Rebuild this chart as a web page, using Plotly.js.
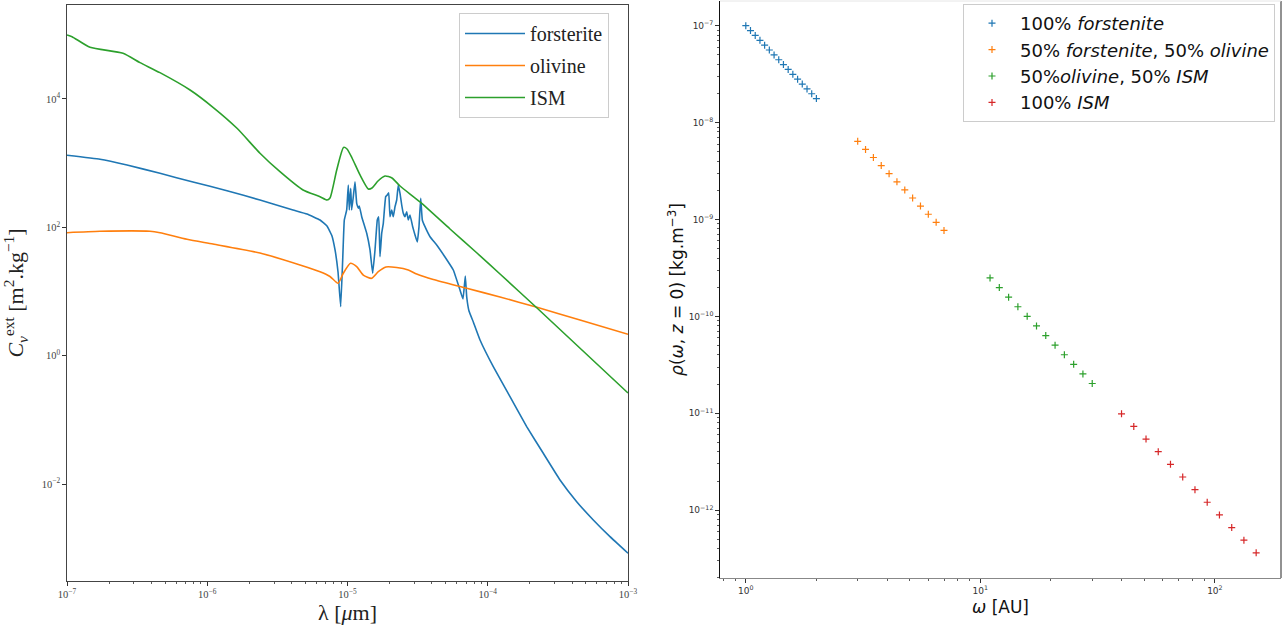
<!DOCTYPE html>
<html>
<head>
<meta charset="utf-8">
<script src="https://cdn.plot.ly/plotly-3.0.1.min.js"></script>
<style>html,body{margin:0;padding:0;background:#fff;} #chart{width:1288px;height:630px;}</style>
</head>
<body>
<div id="chart"></div>
<script>
// ---------- Left panel: extinction opacity vs wavelength ----------
const lambdaForsterite = [1.000e-7,1.719e-7,2.678e-7,4.603e-7,7.91e-7,1.383e-6,2.377e-6,4.087e-6,5.14e-6,6.37e-6,7.14e-6,7.75e-6,8.15e-6,8.56e-6,8.94e-6,9.24e-6,9.49e-6,9.87e-6,1.013e-5,1.030e-5,1.054e-5,1.071e-5,1.100e-5,1.131e-5,1.163e-5,1.194e-5,1.214e-5,1.263e-5,1.371e-5,1.447e-5,1.512e-5,1.571e-5,1.631e-5,1.669e-5,1.705e-5,1.753e-5,1.800e-5,1.872e-5,1.922e-5,1.967e-5,2.009e-5,2.066e-5,2.121e-5,2.181e-5,2.243e-5,2.302e-5,2.368e-5,2.435e-5,2.499e-5,2.570e-5,2.643e-5,2.713e-5,2.790e-5,2.916e-5,3.029e-5,3.145e-5,3.234e-5,3.326e-5,3.415e-5,3.569e-5,3.876e-5,4.325e-5,4.956e-5,5.68e-5,6.34e-5,6.66e-5,6.92e-5,7.08e-5,7.35e-5,7.89e-5,8.81e-5,1.095e-4,1.441e-4,1.895e-4,2.489e-4,3.275e-4,4.307e-4,5.657e-4,7.44e-4,1.000e-3];
const forsterite = [1327,1150,937,696,509,373,267,187,161.7,130.4,105.1,73.5,44.5,20.2,5.82,31.1,130.4,187,457.6,187,406.4,187,300.8,515,237.4,198.4,215.4,146.8,80.9,44.5,19.3,44.5,130.4,146.8,35.0,80.9,115.8,300.8,319.7,347.2,146.8,187,146.8,210.1,267,457.6,339.8,223.3,165.8,146.8,175.6,130.4,156.0,102.5,76.1,59.2,102.5,284.0,130.4,102.5,71.6,53.2,34.6,21.7,10.59,7.67,17.5,8.24,4.99,3.36,1.762,0.6765,0.2306,0.07864,0.03029,0.01163,0.005338,0.002769,0.001521,0.000839];

const lambdaOlivine = [1.000e-7,1.719e-7,3.906e-7,4.603e-7,7.17e-7,1.099e-6,2.377e-6,4.585e-6,6.37e-6,7.50e-6,8.56e-6,9.33e-6,1.051e-5,1.163e-5,1.296e-5,1.487e-5,1.658e-5,1.882e-5,2.243e-5,2.713e-5,3.114e-5,4.09e-5,7.08e-5,1.223e-4,2.245e-4,4.547e-4,1.000e-3];
const olivine = [82.7,87.0,87.0,82.7,65.3,55.1,39.9,25.96,20.4,17.2,13.47,19.3,27.6,24.4,18.1,16.1,20.4,24.2,23.7,21.7,18.8,15.4,11.26,8.24,5.69,3.61,2.163];

const lambdaISM = [1.000e-7,1.086e-7,1.459e-7,2.508e-7,3.315e-7,4.60e-7,7.54e-7,1.099e-6,1.630e-6,2.377e-6,3.30e-6,4.82e-6,6.37e-6,7.14e-6,7.50e-6,8.38e-6,9.37e-6,9.92e-6,1.077e-5,1.228e-5,1.407e-5,1.495e-5,1.650e-5,1.851e-5,2.076e-5,2.368e-5,3.288e-5,5.38e-5,8.38e-5,1.223e-4,2.245e-4,1.000e-3];
const ism = [9.93e4,9.34e4,6.39e4,5.15e4,3.68e4,2.57e4,1.381e4,7.43e3,3.50e3,1.43e3,737,382,301,267,287,784,1760,1664,1205,655,396,411,528,632,588,441,249,94.4,39.9,18.8,5.55,0.2634];

const leftXTickVals = [1e-7,1e-6,1e-5,1e-4,1e-3];
const leftXTickText = ["10<sup>−7</sup>","10<sup>−6</sup>","10<sup>−5</sup>","10<sup>−4</sup>","10<sup>−3</sup>"];
const leftYTickVals = [1e-2,1,1e2,1e4];
const leftYTickText = ["10<sup>−2</sup>","10<sup>0</sup>","10<sup>2</sup>","10<sup>4</sup>"];

// ---------- Right panel: midplane density vs radius ----------
const omegaForstenite = [1.000,1.047,1.097,1.149,1.203,1.260,1.320,1.382,1.447,1.516,1.587,1.663,1.741,1.824,1.910,2.000];
const rhoForstenite = [1.000e-7,8.909e-8,7.937e-8,7.071e-8,6.300e-8,5.612e-8,5.000e-8,4.454e-8,3.969e-8,3.536e-8,3.150e-8,2.806e-8,2.500e-8,2.227e-8,1.984e-8,1.768e-8];
const omegaMix1 = [3.000,3.240,3.500,3.780,4.083,4.410,4.763,5.144,5.556,6.001,6.481,7.000];
const rhoMix1 = [6.415e-9,5.292e-9,4.364e-9,3.599e-9,2.970e-9,2.449e-9,2.020e-9,1.666e-9,1.374e-9,1.133e-9,9.352e-10,7.714e-10];
const omegaMix2 = [11.00,12.05,13.20,14.46,15.84,17.36,19.01,20.83,22.82,25.00,27.38,30.00];
const rhoMix2 = [2.492e-10,1.984e-10,1.579e-10,1.257e-10,1.001e-10,7.968e-11,6.344e-11,5.050e-11,4.020e-11,3.201e-11,2.548e-11,2.029e-11];
const omegaISM = [40.00,45.11,50.87,57.36,64.68,72.94,82.26,92.76,104.6,118.0,133.0,150.0];
const rhoISM = [9.882e-12,7.318e-12,5.419e-12,4.013e-12,2.972e-12,2.200e-12,1.629e-12,1.207e-12,8.936e-13,6.617e-13,4.900e-13,3.629e-13];

const rightXTickVals = [1,10,100];
const rightXTickText = ["10<sup>0</sup>","10<sup>1</sup>","10<sup>2</sup>"];
const rightYTickVals = [1e-12,1e-11,1e-10,1e-9,1e-8,1e-7];
const rightYTickText = ["10<sup>−12</sup>","10<sup>−11</sup>","10<sup>−10</sup>","10<sup>−9</sup>","10<sup>−8</sup>","10<sup>−7</sup>"];

const legendLabels = ["100% <i>forstenite</i>","50% <i>forstenite</i>, 50% <i>olivine</i>","50%<i>olivine</i>, 50% <i>ISM</i>","100% <i>ISM</i>"];

function minorTicks(eLo, eHi) {
  const out = [];
  for (let e = eLo; e <= eHi; e++) for (let m = 2; m <= 9; m++) out.push(m * Math.pow(10, e));
  return out;
}

const C = ['#1f77b4','#ff7f0e','#2ca02c','#d62728'];

const traces = [
  {x: lambdaForsterite, y: forsterite, name: 'forsterite', type: 'scatter', mode: 'lines', line: {color: C[0], width: 1.6, shape: 'spline', smoothing: 0.3}, xaxis: 'x', yaxis: 'y', legend: 'legend', legendgroup: 'a'},
  {x: lambdaOlivine, y: olivine, name: 'olivine', type: 'scatter', mode: 'lines', line: {color: C[1], width: 1.6, shape: 'spline', smoothing: 0.6}, xaxis: 'x', yaxis: 'y', legend: 'legend', legendgroup: 'b'},
  {x: lambdaISM, y: ism, name: 'ISM', type: 'scatter', mode: 'lines', line: {color: C[2], width: 1.6, shape: 'spline', smoothing: 0.6}, xaxis: 'x', yaxis: 'y', legend: 'legend', legendgroup: 'c'},
];
const rightSets = [[omegaForstenite, rhoForstenite],[omegaMix1, rhoMix1],[omegaMix2, rhoMix2],[omegaISM, rhoISM]];
rightSets.forEach((s, i) => {
  traces.push({x: s[0], y: s[1], name: legendLabels[i], type: 'scatter', mode: 'markers',
    marker: {symbol: 'cross-thin', size: 5, color: C[i], line: {color: C[i], width: 1.2}},
    xaxis: 'x2', yaxis: 'y2', legend: 'legend2', legendgroup: 'r' + i});
});

const W = 1288, H = 630;
const serif = 'Liberation Serif, DejaVu Serif, serif';
const sans = 'DejaVu Sans, sans-serif';

const layout = {
  width: W, height: H,
  margin: {l: 0, r: 0, t: 0, b: 0},
  paper_bgcolor: '#fff', plot_bgcolor: '#fff',
  showlegend: true,
  xaxis: {
    type: 'log', domain: [67/W, 628/W], range: [-7, -3], anchor: 'y',
    showgrid: false, zeroline: false, showline: true, mirror: true, linecolor: '#444', linewidth: 1.3,
    ticks: 'outside', ticklen: 3.5, tickwidth: 1, tickcolor: '#333',
    tickmode: 'array', tickvals: leftXTickVals, ticktext: leftXTickText,
    tickfont: {family: serif, size: 10.5, color: '#444'},
    minor: {tickvals: minorTicks(-7, -4), ticks: 'outside', ticklen: 2, tickwidth: 0.8, tickcolor: '#333', showgrid: false},
    title: {text: 'λ [<i>μ</i>m]', font: {family: serif, size: 22, color: '#222'}, standoff: 2},
    automargin: false
  },
  yaxis: {
    type: 'log', domain: [1 - 581/H, 1 - 5/H], range: [-3.508, 5.464], anchor: 'x',
    showgrid: false, zeroline: false, showline: true, mirror: true, linecolor: '#444', linewidth: 1.3,
    ticks: 'outside', ticklen: 3.5, tickwidth: 1, tickcolor: '#333',
    tickmode: 'array', tickvals: leftYTickVals, ticktext: leftYTickText,
    tickfont: {family: serif, size: 10.5, color: '#444'},
    title: {text: '<i>C</i><sub><i>ν</i></sub><sup>ext</sup> [m<sup>2</sup>.kg<sup>−1</sup>]', font: {family: serif, size: 22, color: '#222'}, standoff: 12},
    automargin: false
  },
  xaxis2: {
    type: 'log', domain: [720/W, 1281/W], range: [-0.11, 2.282], anchor: 'y2',
    showgrid: false, zeroline: false, showline: true, linecolor: '#888', linewidth: 1.3,
    ticks: 'outside', ticklen: 3.5, tickwidth: 1, tickcolor: '#333',
    tickmode: 'array', tickvals: rightXTickVals, ticktext: rightXTickText,
    tickfont: {family: sans, size: 9, color: '#333'},
    minor: {tickvals: minorTicks(-1, 1), ticks: 'outside', ticklen: 2, tickwidth: 0.8, tickcolor: '#333', showgrid: false},
    title: {text: '<i>ω</i> [AU]', font: {family: sans, size: 17, color: '#111'}, standoff: 6},
    automargin: false
  },
  yaxis2: {
    type: 'log', domain: [1 - 578/H, 1 - 1/H], range: [-12.70, -6.745], anchor: 'x2',
    showgrid: false, zeroline: false, showline: true, linecolor: '#111', linewidth: 1.3,
    ticks: 'outside', ticklen: 3.5, tickwidth: 1, tickcolor: '#333',
    tickmode: 'array', tickvals: rightYTickVals, ticktext: rightYTickText,
    tickfont: {family: sans, size: 9, color: '#333'},
    minor: {tickvals: minorTicks(-13, -8), ticks: 'outside', ticklen: 2, tickwidth: 0.8, tickcolor: '#333', showgrid: false},
    title: {text: '<i>ρ</i>(<i>ω</i>, <i>z</i> = 0) [kg.m<sup>−3</sup>]', font: {family: sans, size: 17, color: '#111'}, standoff: 0},
    automargin: false
  },
  shapes: [
    {type: 'line', xref: 'x2 domain', yref: 'y2 domain', x0: 1, x1: 1, y0: 0, y1: 1, line: {color: '#777', width: 1.6}},
    {type: 'line', xref: 'x2 domain', yref: 'y2 domain', x0: 0, x1: 1, y0: 1, y1: 1, line: {color: '#e6e6e6', width: 1}}
  ],
  legend: {
    x: 459/W, y: 1 - 13/H, xanchor: 'left', yanchor: 'top',
    bgcolor: 'rgba(255,255,255,0.85)', bordercolor: '#cccccc', borderwidth: 1,
    font: {family: serif, size: 20, color: '#222'}, traceorder: 'grouped', tracegroupgap: 3,
    itemwidth: 60
  },
  legend2: {
    x: 963/W, y: 1 - 4/H, xanchor: 'left', yanchor: 'top',
    bgcolor: 'rgba(255,255,255,0.85)', bordercolor: '#cccccc', borderwidth: 1,
    font: {family: sans, size: 18, color: '#111'}, traceorder: 'grouped', tracegroupgap: 0,
    itemwidth: 46
  }
};

Plotly.newPlot('chart', traces, layout, {displayModeBar: false, staticPlot: true});
</script>
</body>
</html>
